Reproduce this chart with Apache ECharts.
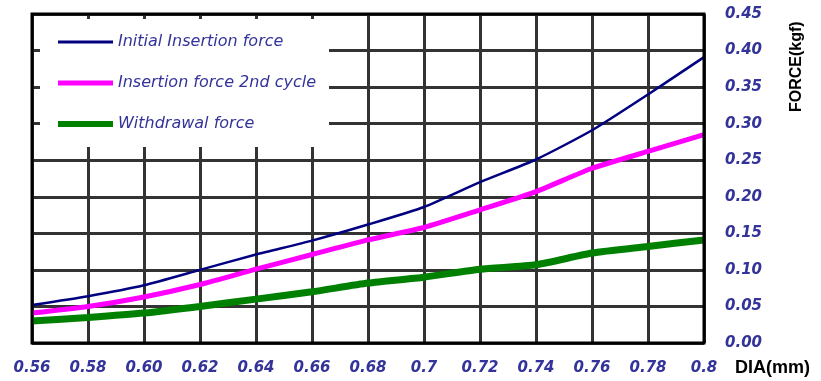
<!DOCTYPE html>
<html>
<head>
<meta charset="utf-8">
<script src="https://cdn.jsdelivr.net/npm/echarts@6/dist/echarts.min.js"></script>
<style>html,body{margin:0;padding:0;background:#fff}#c{width:821px;height:381px}</style>
</head>
<body>
<div id="c"></div>
<script>
var categories = ['0.56','0.58','0.60','0.62','0.64','0.66','0.68','0.7','0.72','0.74','0.76','0.78','0.8'];
var initialInsertion = [0.052,0.064,0.079,0.100,0.121,0.140,0.162,0.186,0.220,0.251,0.291,0.340,0.391];
var insertion2nd = [0.041,0.050,0.063,0.080,0.101,0.121,0.141,0.158,0.182,0.207,0.239,0.262,0.285];
var withdrawal = [0.030,0.035,0.041,0.050,0.060,0.070,0.082,0.090,0.101,0.107,0.123,0.132,0.141];
var seriesNames = ['Initial Insertion force','Insertion force 2nd cycle','Withdrawal force'];
var yTicks = [0, 0.45, 0.05];

var chart = echarts.init(document.getElementById('c'));
var labelStyle = {color:'#333399', fontFamily:'DejaVu Sans', fontStyle:'italic', fontWeight:'bold', fontSize:15};
chart.setOption({
  animation:false,
  backgroundColor:'#fff',
  grid:{left:32, right:117, top:14, bottom:38, show:true, borderColor:'#000', borderWidth:3, z:10},
  legend:{
    left:40, top:19, orient:'vertical',
    backgroundColor:'#fff',
    padding:[15,13,15,15],
    itemWidth:55, itemHeight:14, itemGap:25,
    itemStyle:{opacity:0},
    textStyle:{color:'#333399', fontFamily:'DejaVu Sans', fontStyle:'italic', fontSize:16},
    data:[
      {name:seriesNames[0], lineStyle:{width:3}},
      {name:seriesNames[1], lineStyle:{width:5}},
      {name:seriesNames[2], lineStyle:{width:6}}
    ]
  },
  xAxis:{
    type:'category', data:categories, boundaryGap:false,
    axisLine:{show:false}, axisTick:{show:false},
    axisLabel:Object.assign({margin:18, interval:0}, labelStyle),
    splitLine:{show:true, lineStyle:{color:'#333', width:3}}
  },
  yAxis:{
    type:'value', position:'right', min:yTicks[0], max:yTicks[1], interval:yTicks[2],
    axisLine:{show:false}, axisTick:{show:false},
    axisLabel:Object.assign({margin:21, formatter:function(v){return v.toFixed(2);}}, labelStyle),
    splitLine:{show:true, lineStyle:{color:'#333', width:3}}
  },
  graphic:[
    {type:'text', left:735, top:359, style:{text:'DIA(mm)', fill:'#000', font:'bold 18px "Liberation Sans"'}},
    {type:'text', x:789, y:112, rotation:Math.PI/2, style:{text:'FORCE(kgf)', fill:'#000', font:'bold 16px "Liberation Sans"'}}
  ],
  series:[
    {name:seriesNames[0], type:'line', data:initialInsertion, smooth:0.2, showSymbol:false, symbol:'none', color:'#000080', lineStyle:{color:'#000080', width:2.5}, z:5},
    {name:seriesNames[1], type:'line', data:insertion2nd, smooth:0.2, showSymbol:false, symbol:'none', color:'#ff00ff', lineStyle:{color:'#ff00ff', width:5}, z:4},
    {name:seriesNames[2], type:'line', data:withdrawal, smooth:0.2, showSymbol:false, symbol:'none', color:'#008000', lineStyle:{color:'#008000', width:7}, z:3}
  ]
});
</script>
</body>
</html>
